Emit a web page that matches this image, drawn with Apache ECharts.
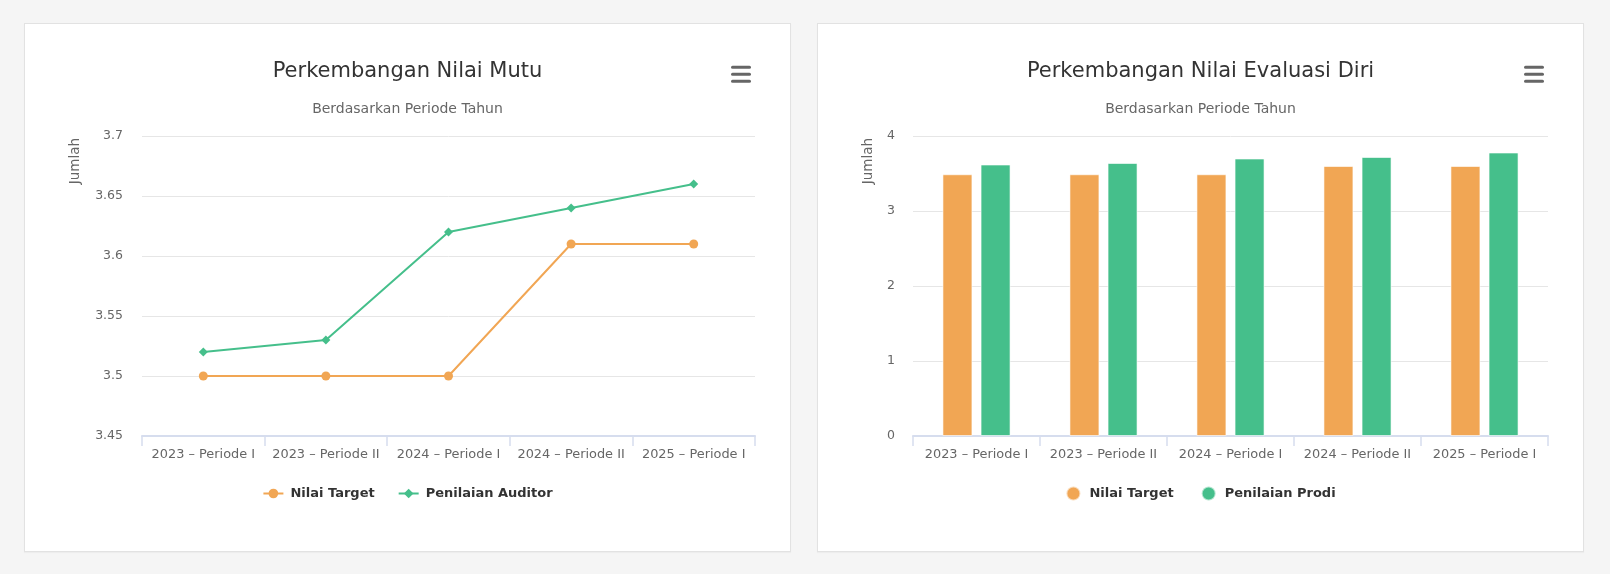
<!DOCTYPE html>
<html>
<head>
<meta charset="utf-8">
<script src="https://cdn.jsdelivr.net/npm/echarts@6/dist/echarts.min.js"></script>
<style>
  html, body { margin: 0; padding: 0; background: #f5f5f5; width: 1610px; height: 574px; overflow: hidden; }
  .card { position: absolute; top: 23px; width: 767px; height: 529px; box-sizing: border-box;
          border: 1px solid #e2e2e2; background: #fff; box-shadow: 0 1px 1px rgba(0,0,0,0.03); }
  .chart { position: absolute; left: 0; top: 0; width: 765px; height: 527px; }
</style>
</head>
<body>
<div class="card" style="left:24px"><div id="c1" class="chart"></div></div>
<div class="card" style="left:817px"><div id="c2" class="chart"></div></div>
<script>
// ---- data ----
var categories = ['2023 – Periode I', '2023 – Periode II', '2024 – Periode I', '2024 – Periode II', '2025 – Periode I'];
var mutuTarget = [3.5, 3.5, 3.5, 3.61, 3.61];
var mutuAuditor = [3.52, 3.53, 3.62, 3.64, 3.66];
var evalTarget = [3.49, 3.49, 3.49, 3.6, 3.6];
var evalProdi = [3.62, 3.64, 3.70, 3.72, 3.78];

var ORANGE = '#f1a654';
var GREEN = '#45bf8b';
var FONT = 'DejaVu Sans';

function hamburger() {
  var els = [];
  [43.3, 50.3, 57.3].forEach(function (y) {
    els.push({ type: 'rect', shape: { x: 706, y: y - 1.5, width: 20, height: 3, r: 1.5 }, style: { fill: '#666' }, silent: true });
  });
  return els;
}
function axisName() {
  return { type: 'text', x: 50, y: 114, rotation: Math.PI / 2,
    style: { text: 'Jumlah', fill: '#666', font: '13.5px "DejaVu Sans"', align: 'right', verticalAlign: 'middle' } };
}
function titles(t) {
  return [
    { text: t, left: 'center', top: 31, textStyle: { fontFamily: FONT, fontSize: 21, fontWeight: 'normal', color: '#333', lineHeight: 24 } },
    { text: 'Berdasarkan Periode Tahun', left: 'center', top: 72, textStyle: { fontFamily: FONT, fontSize: 14, fontWeight: 'normal', color: '#666', lineHeight: 16 } }
  ];
}
function xAxis() {
  return {
    type: 'category', data: categories, boundaryGap: true,
    axisLine: { lineStyle: { color: '#d6ddee', width: 2 } },
    axisTick: { show: true, length: 10, lineStyle: { color: '#d6ddee', width: 1.5 } },
    axisLabel: { interval: 0, margin: 12, color: '#666', fontFamily: FONT, fontSize: 12.9 },
    splitLine: { show: false }
  };
}

var c1 = echarts.init(document.getElementById('c1'));
c1.setOption({
  animation: false,
  title: titles('Perkembangan Nilai Mutu'),
  grid: { left: 117, right: 35, top: 112, bottom: 115 },
  xAxis: xAxis(),
  yAxis: {
    type: 'value', min: 3.45, max: 3.7, interval: 0.05,
    axisLine: { show: false }, axisTick: { show: false },
    axisLabel: { margin: 19, color: '#666', fontFamily: FONT, fontSize: 12.5 },
    splitLine: { lineStyle: { color: '#e6e6e6', width: 1 } }
  },
  legend: {
    left: 'center', top: 456.5, itemWidth: 20, itemHeight: 12, itemGap: 23,
    textStyle: { fontFamily: FONT, fontSize: 13, fontWeight: 'bold', color: '#333', lineHeight: 16, padding: [0, 0, 0, 2] },
    data: ['Nilai Target', 'Penilaian Auditor']
  },
  graphic: hamburger().concat([axisName()]),
  series: [
    { name: 'Nilai Target', type: 'line', data: mutuTarget, symbol: 'circle', symbolSize: 9,
      lineStyle: { width: 2, color: ORANGE }, itemStyle: { color: ORANGE } },
    { name: 'Penilaian Auditor', type: 'line', data: mutuAuditor, symbol: 'diamond', symbolSize: 9,
      lineStyle: { width: 2, color: GREEN }, itemStyle: { color: GREEN } }
  ]
});

var c2 = echarts.init(document.getElementById('c2'));
c2.setOption({
  animation: false,
  title: titles('Perkembangan Nilai Evaluasi Diri'),
  grid: { left: 95, right: 35, top: 112, bottom: 115 },
  xAxis: xAxis(),
  yAxis: {
    type: 'value', min: 0, max: 4, interval: 1,
    axisLine: { show: false }, axisTick: { show: false },
    axisLabel: { margin: 18, color: '#666', fontFamily: FONT, fontSize: 12.5 },
    splitLine: { lineStyle: { color: '#e6e6e6', width: 1 } }
  },
  legend: {
    left: 'center', top: 456.5, icon: 'circle', itemWidth: 14, itemHeight: 14, itemGap: 27,
    textStyle: { fontFamily: FONT, fontSize: 13, fontWeight: 'bold', color: '#333', lineHeight: 16, padding: [0, 0, 0, 4] },
    data: ['Nilai Target', 'Penilaian Prodi']
  },
  graphic: hamburger().concat([axisName()]),
  series: [
    { name: 'Nilai Target', type: 'bar', data: evalTarget, barWidth: 30, barGap: '27%',
      itemStyle: { color: ORANGE, borderColor: 'rgba(255,255,255,0.6)', borderWidth: 1 } },
    { name: 'Penilaian Prodi', type: 'bar', data: evalProdi, barWidth: 30, barGap: '27%',
      itemStyle: { color: GREEN, borderColor: 'rgba(255,255,255,0.6)', borderWidth: 1 } }
  ]
});
</script>
</body>
</html>
